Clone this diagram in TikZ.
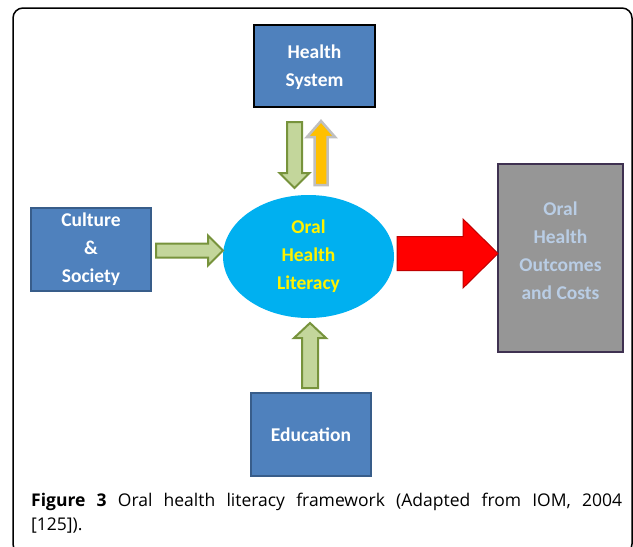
\documentclass[tikz,border=0pt]{standalone}
\usepackage{fontspec}
\setmainfont{Carlito}
\newfontfamily\capfont{Open Sans}
\usetikzlibrary{calc,shapes.geometric}
\definecolor{boxblue}{HTML}{4F81BD}
\definecolor{boxedge}{HTML}{385D8A}
\definecolor{ellblue}{HTML}{00B0F0}
\definecolor{litgreen}{HTML}{C3D69B}
\definecolor{dkgreen}{HTML}{77933C}
\definecolor{orangefill}{HTML}{FFC000}
\definecolor{greyedge}{HTML}{BFBFBF}
\definecolor{redfill}{HTML}{FF0000}
\definecolor{rededge}{HTML}{C00000}
\definecolor{boxgrey}{HTML}{969696}
\definecolor{purpedge}{HTML}{3F3151}
\definecolor{paleblue}{HTML}{B9CDE5}
\tikzset{
  bluebox/.style={draw=boxedge, line width=1.5pt, fill=boxblue, minimum width=120pt, minimum height=83pt, inner sep=0pt},
  blackbox/.style={draw=black, line width=2pt, fill=boxblue, minimum width=121pt, minimum height=82pt, inner sep=0pt},
  greybox/.style={draw=purpedge, line width=2pt, fill=boxgrey, minimum width=125pt, minimum height=188pt, inner sep=0pt},
  ellnode/.style={ellipse, fill=ellblue, minimum width=171pt, minimum height=123pt, inner sep=0pt},
  boxtext/.style={font=\fontsize{19.5}{28}\selectfont\bfseries, align=center},
  greenarrow/.style={fill=litgreen, draw=dkgreen, line width=2pt},
  orangearrow/.style={fill=orangefill, draw=greyedge, line width=2.5pt},
  redarrow/.style={fill=redfill, draw=rededge, line width=1pt},
  frame/.style={draw=black, line width=1.5pt, rounded corners=10pt}
}
% #1 style, #2 tail, #3 tip, #4 shaft half width, #5 head half width, #6 head length
\newcommand\blockarrow[6]{%
  \coordinate (ba-base) at ($(#3)!#6!(#2)$);
  \draw[#1] ($(#2)!#4!90:(#3)$) -- ($(ba-base)!#4!90:(#3)$) -- ($(ba-base)!#5!90:(#3)$)
    -- (#3) -- ($(ba-base)!#5!-90:(#3)$) -- ($(ba-base)!#4!-90:(#3)$) -- ($(#2)!#4!-90:(#3)$) -- cycle;
}
\begin{document}
\begin{tikzpicture}[x=1pt, y=-1pt]
\useasboundingbox (0,0) rectangle (633,547);
\draw[frame] (13,8) rectangle (632,554);

\node[blackbox] (hs) at (314.5,66) {};
\node[boxtext, text=white] at ($(hs.center)+(0,1.5)$) {Health\\System};
\node[bluebox] (cs) at (91,249.5) {};
\node[boxtext, text=white] at (cs.center) {Culture\\\&\\Society};
\node[bluebox] (ed) at (311,434.5) {};
\node[boxtext, text=white] at (ed.center) {Education};
\node[greybox] (oh) at (560.5,258) {};
\node[boxtext, text=paleblue] at ($(oh.center)+(0,-7)$) {Oral\\Health\\Outcomes\\and Costs};
\node[ellnode] (ol) at (308.5,256.5) {};
\node[boxtext, text=yellow] at (ol.center) {Oral\\Health\\Literacy};

% connector end points
\coordinate (a1t) at (294.5,122);
\coordinate (a1h) at (294.5,188);
\coordinate (a2t) at (321,185);
\coordinate (a2h) at (321,121);
\coordinate (a3t) at (156,250.5);
\coordinate (a3h) at (223,250.5);
\coordinate (a4t) at (397,253.5);
\coordinate (a4h) at (498,253.5);
\coordinate (a5t) at (310,388);
\coordinate (a5h) at (310,323);

\blockarrow{greenarrow}{a1t}{a1h}{7.5pt}{15pt}{15pt}
\blockarrow{orangearrow}{a2t}{a2h}{6.5pt}{14pt}{16pt}
\blockarrow{greenarrow}{a3t}{a3h}{7pt}{15pt}{15pt}
\blockarrow{redarrow}{a4t}{a4h}{17pt}{34.5pt}{35pt}
\blockarrow{greenarrow}{a5t}{a5h}{8pt}{16pt}{15pt}

\node[anchor=base west, inner sep=0pt, align=left, font=\capfont\fontsize{17.5}{24}\selectfont] (cap) at (31,530)
  {\makebox[591pt][s]{\textbf{Figure 3} Oral health literacy framework (Adapted from IOM, 2004}\\{[}125]).};
\end{tikzpicture}
\end{document}
